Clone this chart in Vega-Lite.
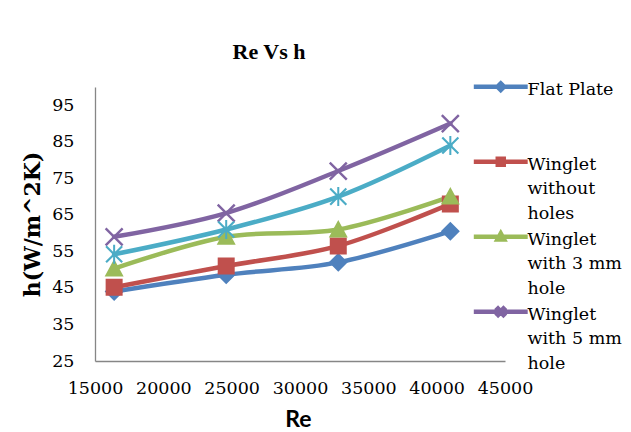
{
  "$schema": "https://vega.github.io/schema/vega-lite/v6.json",
  "width": 410,
  "height": 274,
  "autosize": "none",
  "padding": {"left": 95, "top": 87, "right": 126, "bottom": 71},
  "background": "white",
  "title": {
    "text": "Re Vs h",
    "font": "Liberation Serif",
    "fontSize": 22,
    "fontWeight": "bold",
    "color": "black",
    "anchor": "middle",
    "frame": "group",
    "dx": -31,
    "baseline": "alphabetic",
    "offset": -3
  },
  "config": {
    "view": {"stroke": null},
    "font": "DejaVu Serif",
    "style": {"guide-label": {"dy": 8, "lineHeight": 24.7}}
  },
  "data": {
    "values": [
      {"series": "Flat Plate", "Re": 16400, "h": 44.0},
      {"series": "Flat Plate", "Re": 24600, "h": 48.6},
      {"series": "Flat Plate", "Re": 32800, "h": 52.0},
      {"series": "Flat Plate", "Re": 41000, "h": 60.5},
      {"series": "Winglet without holes", "Re": 16400, "h": 45.2},
      {"series": "Winglet without holes", "Re": 24600, "h": 51.0},
      {"series": "Winglet without holes", "Re": 32800, "h": 56.5},
      {"series": "Winglet without holes", "Re": 41000, "h": 68.0},
      {"series": "Winglet with 3 mm hole", "Re": 16400, "h": 50.3},
      {"series": "Winglet with 3 mm hole", "Re": 24600, "h": 59.0},
      {"series": "Winglet with 3 mm hole", "Re": 32800, "h": 61.0},
      {"series": "Winglet with 3 mm hole", "Re": 41000, "h": 70.0},
      {"series": "Winglet with 5 mm hole", "Re": 16400, "h": 59.0},
      {"series": "Winglet with 5 mm hole", "Re": 24600, "h": 65.5},
      {"series": "Winglet with 5 mm hole", "Re": 32800, "h": 77.0},
      {"series": "Winglet with 5 mm hole", "Re": 41000, "h": 90.0},
      {"series": "Series5", "Re": 16400, "h": 54.2},
      {"series": "Series5", "Re": 24600, "h": 61.0},
      {"series": "Series5", "Re": 32800, "h": 70.0},
      {"series": "Series5", "Re": 41000, "h": 84.0}
    ]
  },
  "encoding": {
    "x": {
      "field": "Re",
      "type": "quantitative",
      "scale": {"domain": [15000, 45000], "nice": false, "zero": false},
      "axis": {
        "values": [15000, 20000, 25000, 30000, 35000, 40000, 45000],
        "format": "d",
        "grid": false,
        "ticks": false,
        "tickSize": 0,
        "domainColor": "#868686",
        "domainWidth": 1.3,
        "labelFont": "DejaVu Serif",
        "labelFontSize": 17.5,
        "labelColor": "black",
        "labelPadding": 10,
        "labelFlush": false,
        "labelOverlap": false,
        "title": "Re",
        "titleFont": "Lato",
        "titleFontSize": 23,
        "titleFontWeight": "bold",
        "titleColor": "black",
        "titleX": 203,
        "titleY": 65,
        "titleBaseline": "alphabetic",
        "titleAlign": "center"
      }
    },
    "y": {
      "field": "h",
      "type": "quantitative",
      "scale": {"domain": [25, 100], "nice": false, "zero": false},
      "axis": {
        "values": [25, 35, 45, 55, 65, 75, 85, 95],
        "format": "d",
        "grid": false,
        "ticks": false,
        "tickSize": 0,
        "domainColor": "#868686",
        "domainWidth": 1.3,
        "labelFont": "DejaVu Serif",
        "labelFontSize": 17.5,
        "labelColor": "black",
        "labelPadding": 21,
        "labelOffset": -8,
        "labelFlush": false,
        "labelOverlap": false,
        "title": "h(W/m^2K)",
        "titleFont": "DejaVu Serif",
        "titleFontSize": 22,
        "titleFontWeight": "bold",
        "titleColor": "black",
        "titleAngle": -90,
        "titleX": -56,
        "titleY": 137,
        "titleBaseline": "alphabetic",
        "titleAlign": "center"
      }
    },
    "color": {
      "field": "series",
      "type": "nominal",
      "scale": {
        "domain": ["Flat Plate", "Winglet without holes", "Winglet with 3 mm hole", "Winglet with 5 mm hole", "Series5"],
        "range": ["#4F81BD", "#C0504D", "#9BBB59", "#8064A2", "#4BACC6"]
      },
      "legend": {
        "values": ["Flat Plate", "Winglet without holes", "Winglet with 3 mm hole", "Winglet with 5 mm hole"],
        "orient": "none",
        "legendX": 376,
        "legendY": -9,
        "padding": 0,
        "rowPadding": 1,
        "title": null,
        "symbolSize": 49,
        "symbolOffset": 21,
        "symbolStrokeWidth": 4.5,
        "labelFont": "DejaVu Serif",
        "labelFontSize": 17.5,
        "labelColor": "black",
        "labelLimit": 200,
        "labelOffset": 18,
        "labelBaseline": "alphabetic",
        "labelExpr": "datum.label === 'Flat Plate' ? ['Flat Plate', '', ''] : datum.label === 'Winglet without holes' ? ['Winglet', 'without', 'holes'] : datum.label === 'Winglet with 3 mm hole' ? ['Winglet', 'with 3 mm', 'hole'] : ['Winglet', 'with 5 mm', 'hole']"
      }
    }
  },
  "layer": [
    {
      "mark": {"type": "line", "interpolate": "catmull-rom", "strokeWidth": 4.5, "strokeCap": "round", "strokeJoin": "round"},
      "encoding": {}
    },
    {
      "mark": {"type": "point", "filled": true, "size": 400, "opacity": 1},
      "encoding": {
        "strokeWidth": {"value": 0},
        "stroke": {
          "field": "series",
          "type": "nominal",
          "scale": {
            "domain": ["Flat Plate", "Winglet without holes", "Winglet with 3 mm hole", "Winglet with 5 mm hole", "Series5"],
            "range": ["#4F81BD", "#C0504D", "#9BBB59", "#8064A2", "#4BACC6"]
          }
        },
        "shape": {
          "field": "series",
          "type": "nominal",
          "scale": {
            "domain": ["Flat Plate", "Winglet without holes", "Winglet with 3 mm hole", "Winglet with 5 mm hole", "Series5"],
            "range": [
              "M-7.7,0H7.7M0,-0.95L0.95,0L0,0.95L-0.95,0Z",
              "M-7.7,0H7.7M-0.85,-0.85H0.85V0.85H-0.85Z",
              "M-7.7,0H7.7M0,-0.95L0.95,0.8H-0.95Z",
              "M-7.7,0H7.7M-0.765,-0.935L0.935,0.765L0.765,0.935L-0.935,-0.765ZM-0.765,0.935L-0.935,0.765L0.765,-0.935L0.935,-0.765Z",
              "M-7.7,0H7.7M-0.73,-0.88L0.88,0.73L0.73,0.88L-0.88,-0.73ZM-0.73,0.88L-0.88,0.73L0.73,-0.88L0.88,-0.73ZM-0.1,-0.95H0.1V0.95H-0.1Z"
            ]
          }
        }
      }
    }
  ]
}
